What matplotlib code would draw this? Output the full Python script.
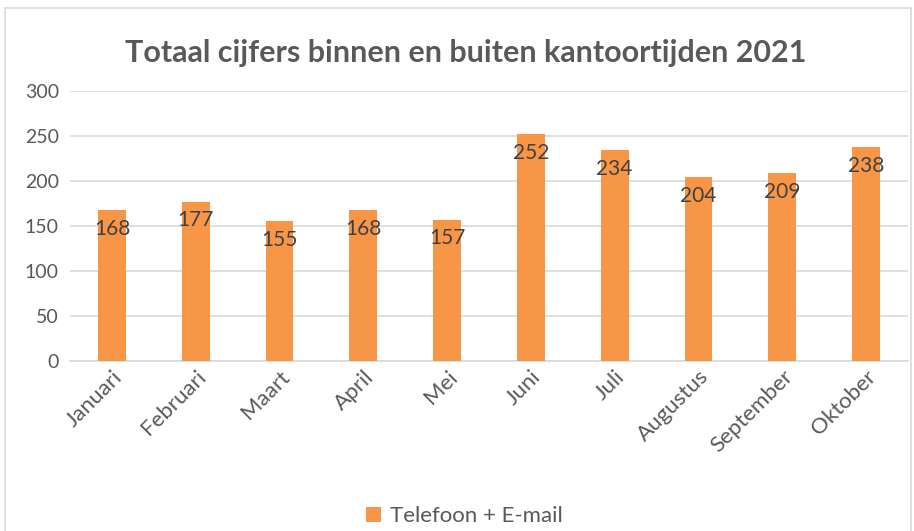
import matplotlib.pyplot as plt
from matplotlib.patches import Rectangle

maanden = ['Januari', 'Februari', 'Maart', 'April', 'Mei', 'Juni', 'Juli',
           'Augustus', 'September', 'Oktober']
aantallen = [168, 177, 155, 168, 157, 252, 234, 204, 209, 238]

plt.rcParams['font.family'] = ['Lato', 'DejaVu Sans']

fig = plt.figure(figsize=(9.14, 5.31), dpi=100)
ax = fig.add_axes([0.0766, 0.3202, 0.9168, 0.5084])

# rand om de hele grafiek
fig.patches.append(Rectangle((0.006, -0.05), 0.991, 1.035, transform=fig.transFigure,
                             fill=False, edgecolor='#D9D9D9', linewidth=1.2))

x = range(len(maanden))
bars = ax.bar(x, aantallen, width=0.33, color='#F79646', label='Telefoon + E-mail', zorder=3)

for i, v in enumerate(aantallen):
    ax.annotate(str(v), (i, v), xytext=(0, -13.5), textcoords='offset points',
                ha='center', va='center', fontsize=15, color='#404040', zorder=4)

ax.set_ylim(0, 300)
ax.set_xlim(-0.5, len(maanden) - 0.5)
ax.set_yticks(range(0, 301, 50))
ax.yaxis.grid(True, color='#D9D9D9', linewidth=1.2, zorder=0)
ax.tick_params(axis='y', length=0, labelsize=14, labelcolor='#595959', pad=8)
ax.tick_params(axis='x', length=0, labelsize=16, labelcolor='#595959', pad=4)
ax.set_xticks(list(x))
ax.set_xticklabels(maanden, rotation=45, ha='right', rotation_mode='anchor')
for s in ['top', 'right', 'left']:
    ax.spines[s].set_visible(False)
ax.spines['bottom'].set_color('#D9D9D9')
ax.spines['bottom'].set_linewidth(1.2)

fig.text(0.509, 0.90, 'Totaal cijfers binnen en buiten kantoortijden 2021',
         ha='center', va='center', fontsize=22, fontweight='bold', color='#595959')

fig.legend(loc='center', bbox_to_anchor=(0.508, 0.028), frameon=False,
           fontsize=16, labelcolor='#595959', handlelength=0.7, handleheight=0.7,
           handletextpad=0.4)

plt.savefig('out.png', dpi=100)
